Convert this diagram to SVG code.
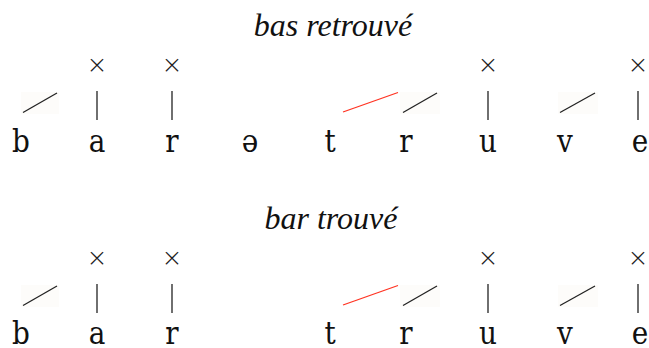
<svg xmlns="http://www.w3.org/2000/svg" width="649" height="348" viewBox="0 0 649 348">
<style>
.title{font-family:"Liberation Serif","Times New Roman",serif;font-style:italic;font-size:32px;fill:#111;text-anchor:middle}
.seg{font-family:"DejaVu Serif Condensed","DejaVu Serif",serif;font-size:31px;fill:#111;text-anchor:middle}
.x{font-family:"DejaVu Sans",sans-serif;font-weight:200;font-size:25px;fill:#222;text-anchor:middle}
.ln{stroke:#222;stroke-width:1.3;fill:none}
.red{stroke:#ff3322;stroke-width:1.3;fill:none}
.bg{fill:#fdfcfa}
</style>
<rect width="649" height="348" fill="#fff"/>
<g id="row1">
  <text class="title" x="333" y="36">bas retrouvé</text>
  <g id="r1-b"><text class="seg" x="21" y="152">b</text></g>
  <g id="r1-a"><text class="x" x="97" y="73">×</text><text class="seg" x="97" y="152">a</text></g>
  <g id="r1-r"><text class="x" x="172" y="73">×</text><text class="seg" x="172" y="152">r</text></g>
  <g id="r1-schwa"><text class="seg" x="250" y="152">ə</text></g>
  <g id="r1-t"><text class="seg" x="330" y="152">t</text></g>
  <g id="r1-r2"><text class="seg" x="406" y="152">r</text></g>
  <g id="r1-u"><text class="x" x="488" y="73">×</text><text class="seg" x="488" y="152">u</text></g>
  <g id="r1-v"><text class="seg" x="565" y="152">v</text></g>
  <g id="r1-e"><text class="x" x="638" y="73">×</text><text class="seg" x="640" y="152">e</text></g>
</g>
<g id="row2">
  <text class="title" x="331" y="229">bar trouvé</text>
  <g id="r2-b"><text class="seg" x="21" y="344">b</text></g>
  <g id="r2-a"><text class="x" x="97" y="266">×</text><text class="seg" x="97" y="344">a</text></g>
  <g id="r2-r"><text class="x" x="172" y="266">×</text><text class="seg" x="172" y="344">r</text></g>
  <g id="r2-t"><text class="seg" x="330" y="344">t</text></g>
  <g id="r2-r2"><text class="seg" x="406" y="344">r</text></g>
  <g id="r2-u"><text class="x" x="488" y="266">×</text><text class="seg" x="488" y="344">u</text></g>
  <g id="r2-v"><text class="seg" x="565" y="344">v</text></g>
  <g id="r2-e"><text class="x" x="638" y="266">×</text><text class="seg" x="640" y="344">e</text></g>
</g>
<g id="connectors">
  <rect class="bg" x="21" y="92" width="38" height="22"/>
  <rect class="bg" x="400" y="92" width="40" height="22"/>
  <rect class="bg" x="558" y="92" width="40" height="22"/>
  <rect class="bg" x="21" y="285" width="38" height="22"/>
  <rect class="bg" x="400" y="285" width="40" height="22"/>
  <rect class="bg" x="558" y="285" width="40" height="22"/>
  <line class="ln" x1="23" y1="112.5" x2="57" y2="93"/>
  <line class="ln" x1="97" y1="91" x2="97" y2="120"/>
  <line class="ln" x1="172" y1="91" x2="172" y2="120"/>
  <line class="red" x1="343" y1="112" x2="398" y2="92.5"/>
  <line class="ln" x1="403" y1="112.5" x2="437" y2="93"/>
  <line class="ln" x1="488" y1="91" x2="488" y2="120"/>
  <line class="ln" x1="560" y1="112.5" x2="595" y2="93"/>
  <line class="ln" x1="638" y1="91" x2="638" y2="120"/>
  <line class="ln" x1="23" y1="305.5" x2="57" y2="286"/>
  <line class="ln" x1="97" y1="284" x2="97" y2="313"/>
  <line class="ln" x1="172" y1="284" x2="172" y2="313"/>
  <line class="red" x1="343" y1="305" x2="398" y2="285.5"/>
  <line class="ln" x1="403" y1="305.5" x2="437" y2="286"/>
  <line class="ln" x1="488" y1="284" x2="488" y2="313"/>
  <line class="ln" x1="560" y1="305.5" x2="595" y2="286"/>
  <line class="ln" x1="638" y1="284" x2="638" y2="313"/>
</g>
</svg>
